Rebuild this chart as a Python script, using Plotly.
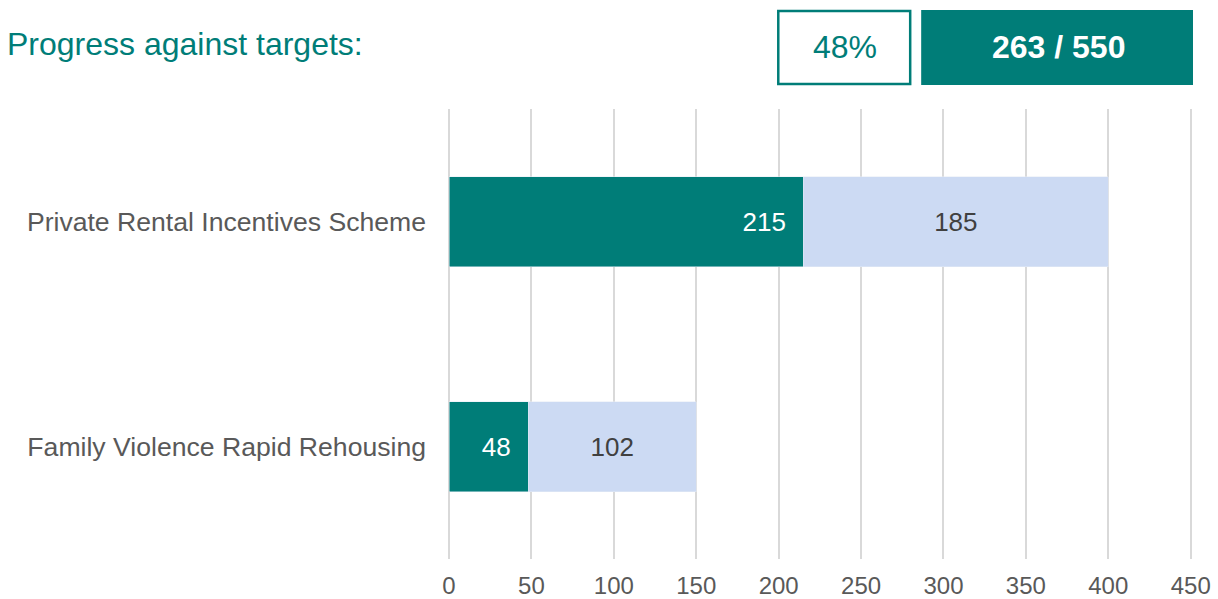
import plotly.graph_objects as go

categories = ["Private Rental Incentives Scheme", "Family Violence Rapid Rehousing"]
achieved = [215, 48]
remaining = [185, 102]
tick_vals = [0, 50, 100, 150, 200, 250, 300, 350, 400, 450]
pct_label = "48%"
total_label = "263 / 550"
title_text = "Progress against targets:"

TEAL = "#007D78"
LIGHT = "#CCDAF3"
GREY = "#595959"
FONT = "Liberation Sans"

W, H = 1218, 599
L, R, T, B = 448.5, 24, 109, 40
pw, ph = W - L - R, H - T - B

def px(x):
    return (x - L) / pw

def py(y):
    return (H - B - y) / ph

fig = go.Figure()
fig.add_trace(go.Bar(
    y=categories, x=achieved, orientation="h", marker_color=TEAL,
    text=[f"{v}\u00a0\u00a0" for v in achieved], textposition="inside", insidetextanchor="end",
    textfont=dict(color="white", size=26, family=FONT),
    width=0.40, hoverinfo="x+y", name="Achieved",
))
fig.add_trace(go.Bar(
    y=categories, x=remaining, orientation="h", marker_color=LIGHT,
    text=[str(v) for v in remaining], textposition="inside", insidetextanchor="middle",
    textfont=dict(color="#404040", size=26, family=FONT),
    width=0.40, hoverinfo="x+y", name="Remaining",
))

fig.update_layout(
    barmode="stack", width=W, height=H,
    margin=dict(l=L, r=R, t=T, b=B, pad=0, autoexpand=False),
    paper_bgcolor="white", plot_bgcolor="white",
    showlegend=False,
    font=dict(family=FONT, color=GREY),
    xaxis=dict(range=[0, 452], tickvals=tick_vals, showgrid=True, gridcolor="#D9D9D9",
               gridwidth=2, zeroline=True, zerolinecolor="#D9D9D9", zerolinewidth=2,
               showline=False, automargin=False,
               tickfont=dict(size=24, color=GREY), ticklabelstandoff=10, fixedrange=True),
    yaxis=dict(autorange="reversed", showgrid=False, zeroline=False, showline=False,
               automargin=False,
               tickfont=dict(size=26.6, color=GREY), ticklabelstandoff=22, fixedrange=True),
    uniformtext=dict(mode="show", minsize=10),
)

fig.add_annotation(x=px(4), y=py(44), xref="paper", yref="paper", text=title_text,
                   showarrow=False, xanchor="left", yanchor="middle",
                   font=dict(size=32, color=TEAL, family=FONT))

fig.add_shape(type="rect", xref="paper", yref="paper", x0=px(778), x1=px(910), y0=py(84), y1=py(11),
              line=dict(color=TEAL, width=2.5), fillcolor="white")
fig.add_annotation(x=px(845), y=py(47), xref="paper", yref="paper", text=pct_label,
                   showarrow=False, xanchor="center", yanchor="middle",
                   font=dict(size=32, color=TEAL, family=FONT))
fig.add_shape(type="rect", xref="paper", yref="paper", x0=px(921), x1=px(1193), y0=py(85), y1=py(10),
              line=dict(width=0), fillcolor=TEAL)
fig.add_annotation(x=px(1058), y=py(47), xref="paper", yref="paper", text="<b>" + total_label + "</b>",
                   showarrow=False, xanchor="center", yanchor="middle",
                   font=dict(size=32, color="white", family=FONT))

fig.write_html("out.html", config={"displayModeBar": False},
               post_script="document.body.style.margin='0';")
